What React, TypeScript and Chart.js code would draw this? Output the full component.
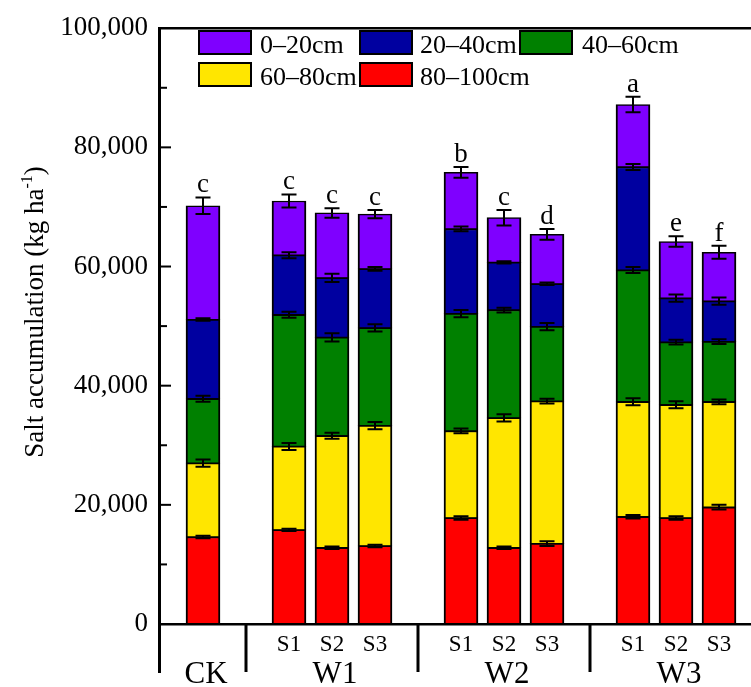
import React, { useEffect, useRef } from 'react';
import { Chart, registerables } from 'chart.js';
Chart.register(...registerables);

// ---- data ----
const groups = ['CK', 'W1', 'W2', 'W3'];
const subLabels = ['S1', 'S2', 'S3'];
const depthLabels = ['0–20cm', '20–40cm', '40–60cm', '60–80cm', '80–100cm'];
// treatments: CK, W1S1, W1S2, W1S3, W2S1, W2S2, W2S3, W3S1, W3S2, W3S3
const d0_20 = [19100, 9100, 10900, 9200, 9500, 7500, 8300, 10500, 9500, 8200];
const d20_40 = [13300, 10000, 10000, 9900, 14200, 8000, 7200, 17300, 7400, 6800];
const d40_60 = [10800, 22100, 16500, 16400, 19700, 18100, 12500, 22100, 10500, 10100];
const d60_80 = [12400, 14000, 18800, 20200, 14600, 21800, 23900, 19300, 19000, 17700];
const d80_100 = [14600, 15800, 12800, 13100, 17800, 12800, 13500, 18000, 17800, 19600];
const e0_20 = [1400, 1100, 800, 700, 900, 1300, 900, 1300, 900, 1100];
const e20_40 = [200, 500, 700, 300, 400, 200, 200, 500, 600, 600];
const e40_60 = [500, 500, 700, 600, 600, 400, 600, 500, 400, 400];
const e60_80 = [600, 600, 500, 600, 400, 600, 400, 600, 600, 400];
const e80_100 = [200, 200, 200, 200, 300, 200, 400, 300, 300, 400];
const letters = ['c', 'c', 'c', 'c', 'b', 'c', 'd', 'a', 'e', 'f'];
const yTicks = [0, 20000, 40000, 60000, 80000, 100000];

const colors = ['#7F00FF', '#0000A0', '#008000', '#FFE600', '#FF0000'];
const seriesVals = [d0_20, d20_40, d40_60, d60_80, d80_100];
const seriesErrs = [e0_20, e20_40, e40_60, e60_80, e80_100];

// build slots: gap, CK, gap, S1, S2, S3, gap, ...
const slotLabels: string[] = [];
const slotOfTreatment: number[] = [];
const groupSlot: number[] = [];
const sepSlots: number[] = [];
groups.forEach((g, gi) => {
  sepSlots.push(slotLabels.length);
  slotLabels.push('');
  if (gi === 0) {
    groupSlot.push(slotLabels.length);
    slotOfTreatment.push(slotLabels.length);
    slotLabels.push(g);
  } else {
    subLabels.forEach((s, si) => {
      if (si === 1) groupSlot.push(slotLabels.length);
      slotOfTreatment.push(slotLabels.length);
      slotLabels.push(s);
    });
  }
});
slotLabels.push('');

function toSlots(arr: number[]) {
  const out: (number | null)[] = slotLabels.map(() => null);
  arr.forEach((v, i) => { out[slotOfTreatment[i]] = v; });
  return out;
}

const SERIF = "'Liberation Serif', 'Times New Roman', serif";

const overlay = {
  id: 'overlay',
  afterDatasetsDraw(chart: any) {
    const ctx = chart.ctx;
    const xs = chart.scales.x;
    const ys = chart.scales.y;
    ctx.save();
    ctx.strokeStyle = '#000';
    ctx.lineWidth = 2;
    const order = [4, 3, 2, 1, 0];
    for (let i = 0; i < slotOfTreatment.length; i++) {
      const px = xs.getPixelForValue(slotOfTreatment[i]);
      let cum = 0;
      for (const s of order) {
        cum += seriesVals[s][i];
        const e = seriesErrs[s][i];
        const t = ys.getPixelForValue(cum + e);
        const b = ys.getPixelForValue(cum - e);
        ctx.beginPath();
        ctx.moveTo(px, t); ctx.lineTo(px, b);
        ctx.moveTo(px - 7.5, t); ctx.lineTo(px + 7.5, t);
        ctx.moveTo(px - 7.5, b); ctx.lineTo(px + 7.5, b);
        ctx.stroke();
      }
      const topE = ys.getPixelForValue(cum + seriesErrs[0][i]);
      ctx.fillStyle = '#000';
      ctx.font = `27px ${SERIF}`;
      ctx.textAlign = 'center';
      ctx.textBaseline = 'alphabetic';
      ctx.fillText(letters[i], px, topE - 5);
    }
    ctx.restore();
  },
  afterDraw(chart: any) {
    const ctx = chart.ctx;
    const xs = chart.scales.x;
    const ys = chart.scales.y;
    const a = chart.chartArea;
    ctx.save();
    ctx.fillStyle = '#000';
    const L = Math.round(a.left);
    const T = Math.round(a.top);
    const B = Math.round(a.bottom);
    // frame
    ctx.fillRect(L - 1, T - 1, chart.width - L + 1, 2.5);
    ctx.fillRect(L - 1, B - 1, chart.width - L + 1, 2.5);
    ctx.fillRect(L - 2, T - 1, 3, B + 49 - T + 1);
    sepSlots.forEach((s) => {
      if (s === 0) return;
      const px = xs.getPixelForValue(s);
      ctx.fillRect(px - 1.5, B, 3, 48);
    });
    // inward ticks
    for (let v = 10000; v < 100000; v += 10000) {
      const py = ys.getPixelForValue(v);
      const len = v % 20000 === 0 ? 11 : 7;
      ctx.fillRect(L, py - 1, len, 2);
    }
    // x labels
    ctx.textAlign = 'center';
    ctx.textBaseline = 'alphabetic';
    ctx.font = `23px ${SERIF}`;
    slotLabels.forEach((l, i) => {
      if (l.startsWith('S')) ctx.fillText(l, xs.getPixelForValue(i), B + 27);
    });
    ctx.font = `31px ${SERIF}`;
    groups.forEach((g, gi) => {
      ctx.fillText(g, xs.getPixelForValue(groupSlot[gi]) + 3, B + 59);
    });
    // legend
    const legendPos = [
      { bx: 199, by: 31, tx: 260 },
      { bx: 360, by: 31, tx: 420 },
      { bx: 520, by: 31, tx: 582 },
      { bx: 199, by: 63, tx: 260 },
      { bx: 360, by: 63, tx: 420 },
    ];
    ctx.font = `26px ${SERIF}`;
    ctx.textAlign = 'left';
    depthLabels.forEach((lab, i) => {
      const p = legendPos[i];
      ctx.fillStyle = colors[i];
      ctx.fillRect(p.bx, p.by, 52, 23);
      ctx.lineWidth = 2;
      ctx.strokeStyle = '#000';
      ctx.strokeRect(p.bx, p.by, 52, 23);
      ctx.fillStyle = '#000';
      ctx.fillText(lab, p.tx, p.by + 22);
    });
    // y title
    ctx.save();
    ctx.translate(43, 312);
    ctx.rotate(-Math.PI / 2);
    const main = 'Salt accumulation (kg ha';
    const sup = '-1';
    const close = ')';
    ctx.font = `27px ${SERIF}`;
    const wMain = ctx.measureText(main).width;
    const wClose = ctx.measureText(close).width;
    ctx.font = `16px ${SERIF}`;
    const wSup = ctx.measureText(sup).width;
    const total = wMain + wSup + wClose;
    let x0 = -total / 2;
    ctx.textAlign = 'left';
    ctx.fillStyle = '#000';
    ctx.font = `27px ${SERIF}`;
    ctx.fillText(main, x0, 0);
    x0 += wMain;
    ctx.font = `16px ${SERIF}`;
    ctx.fillText(sup, x0, -11);
    x0 += wSup;
    ctx.font = `27px ${SERIF}`;
    ctx.fillText(close, x0, 0);
    ctx.restore();
    ctx.restore();
  },
};

export default function App() {
  const ref = useRef<HTMLCanvasElement | null>(null);
  useEffect(() => {
    if (!ref.current) return;
    const datasets = [4, 3, 2, 1, 0].map((s) => ({
      label: depthLabels[s],
      data: toSlots(seriesVals[s]),
      backgroundColor: colors[s],
      borderColor: '#000',
      borderWidth: { top: 1.5, bottom: 1, left: 2, right: 2 },
      borderSkipped: false,
      barThickness: 34,
    }));
    const chart = new Chart(ref.current, {
      type: 'bar',
      data: { labels: slotLabels, datasets },
      options: {
        responsive: false,
        animation: false,
        layout: { padding: { left: 0, top: 23, right: 28, bottom: 63 } },
        plugins: { legend: { display: false }, tooltip: { enabled: false } },
        scales: {
          x: {
            stacked: true,
            offset: false,
            display: false,
            grid: { display: false },
          },
          y: {
            stacked: true,
            min: 0,
            max: 100000,
            afterFit: (scale: any) => { scale.width = 160; },
            afterBuildTicks: (scale: any) => { scale.ticks = yTicks.map((v) => ({ value: v })); },
            border: { display: false },
            grid: { display: false, drawTicks: false },
            ticks: {
              padding: 12,
              color: '#000',
              font: { family: SERIF, size: 27 },
              callback: (v: any) => Number(v).toLocaleString('en-US'),
            },
          },
        },
      },
      plugins: [overlay],
    });
    return () => chart.destroy();
  }, []);
  return (
    <div style={{ position: 'absolute', left: 0, top: 0, width: 751, height: 687, overflow: 'hidden', background: '#fff' }}>
      <canvas ref={ref} width={790} height={687} style={{ width: 790, height: 687, display: 'block' }} />
    </div>
  );
}
